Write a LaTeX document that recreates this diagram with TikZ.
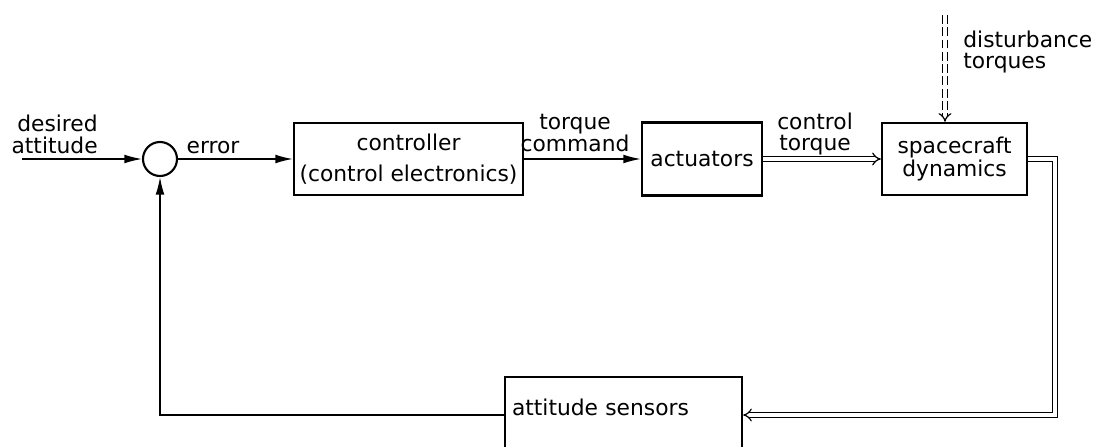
\documentclass[tikz,border=0pt]{standalone}
\usepackage{fontspec}
\setmainfont{DejaVu Sans}
\usepackage{tikz}
\usetikzlibrary{arrows.meta, positioning, calc}

\begin{document}
\begin{tikzpicture}[x=0.02cm, y=-0.02cm,
    font=\fontsize{12.4}{12.5}\selectfont,
    blk/.style={draw, line width=1.3pt, inner sep=0pt, align=center},
    sig/.style={line width=0.8pt, -{Latex[length=10pt,width=5pt]}},
    dbl/.style={line width=0.7pt, double, double distance=1.8pt, -{Implies[length=6pt,width=12pt]}}]
  \useasboundingbox (0,0) rectangle (1104,446);
  % Summing junction with reference input
  \node[draw, circle, line width=1.2pt, minimum size=0.68cm, inner sep=0pt] (sum) at (160,159) {};
  \coordinate (in) at (22,159);
  \node[anchor=east, align=right, inner sep=0pt] (desired) at (98,134) {desired\\attitude};
  \draw[sig] (in) -- (sum.west);
  % Controller
  \node[blk, minimum width=4.58cm, minimum height=1.44cm] (ctrl) at (408.5,159)
       {controller\\[5.5pt](control electronics)};
  \node[inner sep=0pt] (err) at (213,148) {error};
  \draw[sig] (sum.east) -- (ctrl.west);
  % Actuators
  \node[blk, minimum width=2.4cm, minimum height=1.46cm] (act) at (702,159) {actuators};
  \node[inner sep=0pt, align=center] (tcmd) at (575,133) {torque\\command};
  \draw[sig] (ctrl.east) -- (act.west);
  % Spacecraft dynamics
  \node[blk, minimum width=2.9cm, minimum height=1.44cm] (scd) at (954.5,159)
       {spacecraft\\[0.5pt]dynamics};
  \node[inner sep=0pt, align=center] (ctq) at (815,134) {control\\torque};
  \draw[dbl] (act.east) -- (scd.west);
  % Disturbance torques
  \coordinate (dist) at (945,15);
  \node[inner sep=0pt, anchor=west, align=left] (dtq) at (963,52) {disturbance\\torques};
  \draw[dbl, dash pattern=on 5pt off 2pt] (dist) -- (dist |- scd.north);
  % Attitude sensors and feedback loop
  \node[blk, minimum width=4.74cm, minimum height=1.52cm, text width=4.46cm, align=left,
        text height=0.35cm, text depth=0.35cm] (sensors) at (623.5,415) {attitude sensors};
  \coordinate (turn) at (1055,415);
  \draw[dbl] (scd.east) -| (turn) -- (sensors.east);
  \draw[sig] (sensors.west) -| (sum.south);
\end{tikzpicture}
\end{document}
